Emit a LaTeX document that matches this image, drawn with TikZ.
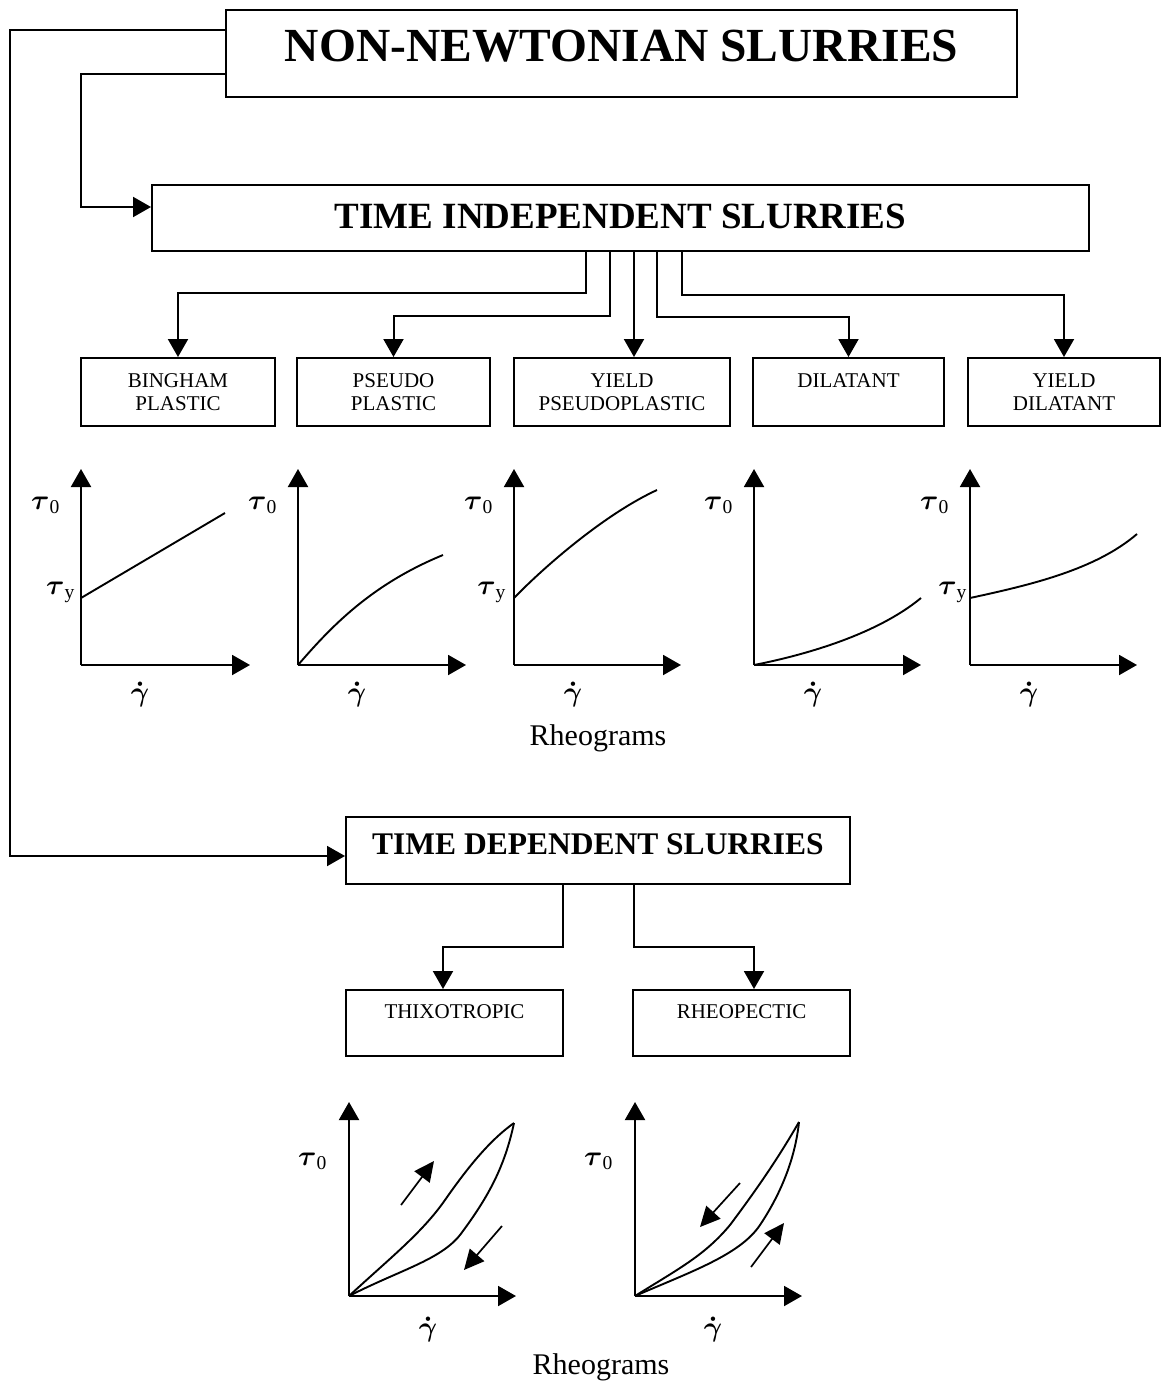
\documentclass[tikz,border=0pt]{standalone}
\usepackage{graphicx}
\usepackage{fontspec}
\setmainfont{Liberation Serif}
\usetikzlibrary{arrows.meta,calc}
\newcommand{\bigsym}[1]{\scalebox{2.8}{#1}}
\newcommand{\taus}[1]{\bigsym{$\mbox{\boldmath$\tau$}_{\mathrm{#1}}$}}
\newcommand{\gdot}{\bigsym{\boldmath$\dot\gamma$}}
\begin{document}
\begin{tikzpicture}[x=1pt,y=-1pt,
  box/.style={draw, line width=2pt, inner sep=0pt, align=center},
  small/.style={box, minimum height=68pt, font=\fontsize{21}{23}\selectfont},
  conn/.style={line width=2pt, -{Triangle[length=18pt,width=20pt]}},
  axis/.style={line width=2pt, -{Triangle[length=18pt,width=20pt]}},
  curve/.style={line width=1.9pt},
  dirarrow/.style={line width=1.7pt, -{Triangle[length=20pt,width=19pt]}},
  sym/.style={font=\fontsize{10}{12}\selectfont, inner sep=0pt},
  rhcap/.style={font=\fontsize{30}{32}\selectfont, inner sep=0pt}]
\useasboundingbox[fill=white] (0,0) rectangle (1162,1387);

% main boxes
\node[box, minimum width=791pt, minimum height=87pt, font=\fontsize{47.5}{47.5}\selectfont\bfseries, text height=31pt, text depth=16pt] (nn) at (621.5,53.5) {NON-NEWTONIAN SLURRIES};
\node[box, minimum width=937pt, minimum height=66pt, font=\fontsize{37}{37}\selectfont\bfseries, text height=24.5pt, text depth=3pt] (ti) at (620.5,218) {TIME INDEPENDENT SLURRIES};
\node[box, minimum width=504pt, minimum height=67pt, font=\fontsize{31.5}{31.5}\selectfont\bfseries, text height=20.5pt, text depth=13pt] (td) at (598,850.5) {TIME DEPENDENT SLURRIES};

% category boxes
\node[small, minimum width=194pt] (bp) at (178,392) {BINGHAM\\PLASTIC};
\node[small, minimum width=193pt] (pp) at (393.5,392) {PSEUDO\\PLASTIC};
\node[small, minimum width=216pt] (yp) at (622,392) {YIELD\\PSEUDOPLASTIC};
\node[small, minimum width=191pt] (dl) at (848.5,392) {DILATANT\\\mbox{}};
\node[small, minimum width=192pt] (yd) at (1064,392) {YIELD\\DILATANT};
\node[small, minimum width=217pt, minimum height=66pt] (tx) at (454.5,1023) {THIXOTROPIC\\\mbox{}};
\node[small, minimum width=217pt, minimum height=66pt] (rp) at (741.5,1023) {RHEOPECTIC\\\mbox{}};

% connectors from the top box
\coordinate (lx1) at (10,30);
\coordinate (lx2) at (81,74);
\draw[conn] (nn.west |- lx1) -- (lx1) |- ([yshift=-5.5pt]td.west);
\draw[conn] (nn.west |- lx2) -- (lx2) |- ([yshift=11pt]ti.west);

% connectors from time independent
\coordinate (c1) at (586,293);
\coordinate (c2) at (610,316);
\coordinate (c4) at (657,317);
\coordinate (c5) at (682,295);
\draw[conn] (ti.south -| c1) -- (c1) -| (bp.north);
\draw[conn] (ti.south -| c2) -- (c2) -| (pp.north);
\draw[conn] ([xshift=12pt]yp.north |- ti.south) -- ([xshift=12pt]yp.north);
\draw[conn] (ti.south -| c4) -- (c4) -| (dl.north);
\draw[conn] (ti.south -| c5) -- (c5) -| (yd.north);

% connectors from time dependent
\coordinate (d1) at (563,947);
\coordinate (d2) at (634,947);
\draw[conn] (td.south -| d1) -- (d1) -| ([xshift=-11.5pt]tx.north);
\draw[conn] (td.south -| d2) -- (d2) -| ([xshift=12.5pt]rp.north);

% rheograms (time independent)
\foreach \ox/\xt in {81/250, 298/466, 514/681, 754/921, 970/1137}{
  \draw[axis] (\ox,665) -- (\ox,469);
  \draw[axis] (\ox,665) -- (\xt,665);
  \node[sym] at (\ox-35,505) {\taus{0}};
  \node[sym] at (\ox+59,694) {\gdot};
}
\node[sym, anchor=east] at (76,592) {\taus{y}};
\node[sym, anchor=east] at (507,592) {\taus{y}};
\node[sym, anchor=east] at (968,592) {\taus{y}};
\draw[curve] (81,598) -- (225,513);
\draw[curve] (298,665) .. controls (330,628) and (370,585) .. (443,555);
\draw[curve] (514,598) .. controls (545,566) and (605,514) .. (657,490);
\draw[curve] (754,665) .. controls (800,656) and (875,636) .. (921,598);
\draw[curve] (970,598) .. controls (1030,585) and (1095,570) .. (1137,534);
\node[rhcap] (rh1) at (598,738) {Rheograms};

% rheograms (time dependent)
\draw[axis] (349,1296) -- (349,1102);
\draw[axis] (349,1296) -- (516,1296);
\draw[axis] (635,1296) -- (635,1102);
\draw[axis] (635,1296) -- (802,1296);
\node[sym] at (313,1161) {\taus{0}};
\node[sym] at (599,1161) {\taus{0}};
\node[sym] at (428,1329) {\gdot};
\node[sym] at (713,1329) {\gdot};
% thixotropic loop
\draw[curve] (349,1296) .. controls (390,1258) and (422,1233) .. (445,1200)
  .. controls (468,1167) and (490,1140) .. (514,1123);
\draw[curve] (349,1296) .. controls (400,1270) and (440,1260) .. (460,1235)
  .. controls (490,1195) and (505,1165) .. (514,1123);
\draw[dirarrow] (401,1205) -- (434,1161);
\draw[dirarrow] (502,1226) -- (464,1270);
% rheopectic loop
\draw[curve] (635,1296) .. controls (680,1268) and (705,1255) .. (730,1225)
  .. controls (760,1185) and (780,1155) .. (799,1122);
\draw[curve] (635,1296) .. controls (690,1272) and (740,1255) .. (760,1225)
  .. controls (780,1195) and (795,1160) .. (799,1122);
\draw[dirarrow] (740,1183) -- (700,1227);
\draw[dirarrow] (751,1267) -- (784,1223);
\node[rhcap] (rh2) at (601,1367) {Rheograms};
\end{tikzpicture}
\end{document}
